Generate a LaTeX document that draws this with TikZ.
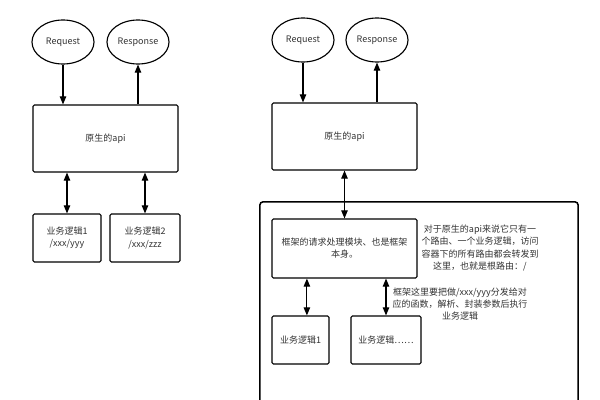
\documentclass[tikz,border=0pt]{standalone}
\usepackage{fontspec}
\setmainfont{Noto Sans CJK SC}
\usetikzlibrary{shapes.geometric,arrows.meta}

\begin{document}
\begin{tikzpicture}[x=0.025cm, y=-0.025cm,
    every node/.style={font=\fontsize{6.4}{8.6}\selectfont, text=black!80},
    ell/.style={ellipse, draw, line width=0.8pt, minimum width=1.55cm, minimum height=1.1cm, inner sep=0pt},
    box/.style={rectangle, draw, line width=0.8pt, rounded corners=1pt, align=center, inner sep=0pt},
    note/.style={align=center, inner sep=0pt},
    arr/.style={line width=0.8pt, -{Triangle[length=0.2cm, width=0.16cm]}},
    darr/.style={line width=0.8pt, {Triangle[length=0.2cm, width=0.16cm]}-{Triangle[length=0.2cm, width=0.16cm]}}]
    \useasboundingbox[fill=white] (0,0) rectangle (600,400);

    % Nodes, plain api
    \node[ell] (req) at (63, 42) {Request};
    \node[ell] (resp) at (138, 42) {Response};
    \node[box, minimum width=3.625cm, minimum height=1.675cm] (api) at (105.5, 138.5) {原生的api};
    \node[box, minimum width=1.7cm, minimum height=1.2cm] (biz1) at (67, 238) {业务逻辑1\\/xxx/yyy};
    \node[box, minimum width=1.75cm, minimum height=1.2cm] (biz2) at (145, 238) {业务逻辑2\\/xxx/zzz};

    % Nodes, with framework
    \node[ell] (freq) at (303, 40) {Request};
    \node[ell] (fresp) at (377, 40) {Response};
    \node[box, minimum width=3.625cm, minimum height=1.675cm] (fapi) at (344.5, 136.5) {原生的api};
    \node[box, line width=1.1pt, rounded corners=2pt, minimum width=7.95cm, minimum height=5.2cm] (frame) at (419, 306) {};
    \node[box, minimum width=3.625cm, minimum height=1.475cm] (core) at (344.5, 248.5) {框架的请求处理模块、也是框架\\本身。};
    \node[box, minimum width=1.425cm, minimum height=1.2cm] (fbiz1) at (300.5, 340) {业务逻辑1};
    \node[box, minimum width=1.75cm, minimum height=1.2cm] (fbizn) at (386, 340) {业务逻辑……};
    \node[note] (note1) at (480, 248) {对于原生的api来说它只有一\\个路由、一个业务逻辑，访问\\容器下的所有路由都会转发到\\这里，也就是根路由：/};
    \node[note] (note2) at (460, 304) {框架这里要把做/xxx/yyy分发给对\\应的函数，解析、封装参数后执行\\业务逻辑};

    % Edges
    \draw[arr] (req) -- (req |- api.north);
    \draw[arr] (resp |- api.north) -- (resp);
    \draw[darr] (biz1.north) -- (biz1 |- api.south);
    \draw[darr] (biz2.north) -- (biz2 |- api.south);

    \draw[arr] (freq) -- (freq |- fapi.north);
    \draw[arr] (fresp |- fapi.north) -- (fresp);
    \draw[darr] (core.north) -- (fapi.south);
    \draw[darr] ([xshift=0.16cm]fbiz1.north) -- ([xshift=0.16cm]fbiz1.north |- core.south);
    \draw[darr] (fbizn.north) -- (fbizn |- core.south);
\end{tikzpicture}
\end{document}
